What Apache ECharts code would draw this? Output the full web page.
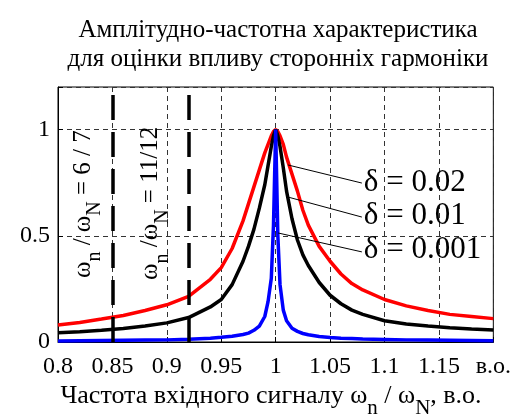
<!DOCTYPE html>
<html>
<head>
<meta charset="utf-8">
<script src="https://cdn.jsdelivr.net/npm/echarts@6/dist/echarts.min.js"></script>
<style>
  html, body { margin: 0; padding: 0; background: #fff; }
  #chart { width: 514px; height: 418px; }
</style>
</head>
<body>
<div id="chart"></div>
<script>
// частоти (в.о.) та амплітуди
var freq = [0.80, 0.82, 0.84, 0.86, 0.88, 0.90, 0.92, 0.94, 0.95, 0.96, 0.97, 0.975, 0.98, 0.985,
            0.99, 0.993, 0.996, 0.998, 1.0, 1.002, 1.004, 1.007, 1.01, 1.015, 1.02, 1.025, 1.03,
            1.04, 1.05, 1.06, 1.07, 1.08, 1.1, 1.12, 1.14, 1.16, 1.18, 1.2];
var ampD002 = [0.08, 0.092, 0.108, 0.125, 0.148, 0.175, 0.215, 0.295, 0.35, 0.44, 0.57, 0.65, 0.73, 0.81,
               0.89, 0.93, 0.97, 0.99, 1.0, 0.99, 0.97, 0.93, 0.87, 0.79, 0.71, 0.62, 0.55,
               0.45, 0.38, 0.32, 0.275, 0.245, 0.20, 0.17, 0.148, 0.13, 0.12, 0.11];
var ampD001 = [0.043, 0.048, 0.055, 0.063, 0.075, 0.09, 0.115, 0.165, 0.2, 0.27, 0.38, 0.45, 0.53, 0.63,
               0.74, 0.83, 0.92, 0.97, 1.0, 0.97, 0.92, 0.82, 0.71, 0.58, 0.48, 0.41, 0.36,
               0.28, 0.22, 0.18, 0.15, 0.13, 0.10, 0.085, 0.075, 0.067, 0.061, 0.056];
var ampD0001 = [0.005, 0.006, 0.007, 0.008, 0.009, 0.01, 0.013, 0.018, 0.022, 0.027, 0.035, 0.042, 0.055, 0.075,
                0.12, 0.19, 0.3, 0.55, 1.0, 0.5, 0.27, 0.15, 0.1, 0.065, 0.05, 0.04, 0.034,
                0.026, 0.021, 0.018, 0.016, 0.014, 0.012, 0.01, 0.009, 0.008, 0.007, 0.006];
var harmonics = [0.85, 0.9167];          // ωn/ωN = 6/7 та 11/12
var deltaLabels = ['δ = 0.02', 'δ = 0.01', 'δ = 0.001'];

var FONT = 'Liberation Serif';

function pairs(ys) {
  return freq.map(function (f, i) { return [f, ys[i]]; });
}

// leader line from curve to its label (data coords)
function leader(from, to) {
  return [{ coord: from }, { coord: to }];
}

var chart = echarts.init(document.getElementById('chart'));

chart.setOption({
  animation: false,
  backgroundColor: '#fff',
  grid: { left: 58, right: 19, top: 87, bottom: 76, show: true, borderColor: '#000', borderWidth: 1 },
  xAxis: {
    type: 'value', min: 0.8, max: 1.2, interval: 0.05,
    axisLine: { lineStyle: { color: '#000', width: 1 } },
    axisTick: { inside: true, length: 5, lineStyle: { color: '#000' } },
    axisLabel: {
      color: '#000', fontSize: 24, fontFamily: FONT, margin: 13,
      formatter: function (v) { return v > 1.19 ? 'в.о.' : String(+v.toFixed(2)); }
    },
    splitLine: { show: true, lineStyle: { color: '#333', width: 1, type: [5, 4] } }
  },
  yAxis: {
    type: 'value', min: 0, max: 1.2, interval: 0.5,
    axisLine: { show: true, lineStyle: { color: '#000', width: 1 } },
    axisTick: { show: true, inside: true, length: 5, lineStyle: { color: '#000' } },
    axisLabel: {
      color: '#000', fontSize: 24, fontFamily: FONT, margin: 8,
      formatter: function (v) { return v > 1.1 ? '' : String(+v.toFixed(2)); }
    },
    splitLine: { show: true, lineStyle: { color: '#333', width: 1, type: [5, 4] } }
  },
  series: [
    {
      name: deltaLabels[0], type: 'line', data: pairs(ampD002), showSymbol: false,
      lineStyle: { color: '#ff0000', width: 3.5 }, itemStyle: { color: '#ff0000' },
      markLine: {
        silent: true, symbol: ['none', 'none'], label: { show: false },
        lineStyle: { color: '#000', width: 1, type: 'solid' },
        data: [leader([1.0114, 0.833], [1.0792, 0.748])]
      }
    },
    {
      name: deltaLabels[1], type: 'line', data: pairs(ampD001), showSymbol: false,
      lineStyle: { color: '#000', width: 3.5 }, itemStyle: { color: '#000' },
      markLine: {
        silent: true, symbol: ['none', 'none'], label: { show: false },
        lineStyle: { color: '#000', width: 1, type: 'solid' },
        data: [leader([1.0114, 0.682], [1.0792, 0.588])]
      }
    },
    {
      name: deltaLabels[2], type: 'line', data: pairs(ampD0001), showSymbol: false,
      lineStyle: { color: '#0000ff', width: 3.5 }, itemStyle: { color: '#0000ff' },
      markLine: {
        silent: true, symbol: ['none', 'none'], label: { show: false },
        lineStyle: { color: '#000', width: 1, type: 'solid' },
        data: [
          leader([1.0023, 0.513], [1.0792, 0.424]),
          { xAxis: harmonics[0], lineStyle: { width: 3.5, type: [25, 12] } },
          { xAxis: harmonics[1], lineStyle: { width: 3.5, type: [25, 12] } }
        ]
      }
    }
  ]
});

// текст з нижніми індексами
var mctx = document.createElement('canvas').getContext('2d');
function txtStyle(text, size, align) {
  return { text: text, fontSize: size, fontFamily: FONT, fill: '#000',
           align: align, verticalAlign: 'middle', textAlign: align, textVerticalAlign: 'middle' };
}
function textRun(parts, size, subSize, subDy) {
  var x = 0, els = [];
  parts.forEach(function (p) {
    var s = p.sub ? subSize : size;
    mctx.font = s + 'px ' + FONT;
    els.push({ type: 'text', x: x, y: (p.sub ? subDy : 0) - 0.35 * s, style: txtStyle(p.t, s, 'left') });
    x += mctx.measureText(p.t).width;
  });
  return { els: els, width: x };
}

function px(pt) { return chart.convertToPixel({ gridIndex: 0 }, pt); }

var graphics = [];

// заголовок
['Амплітудно-частотна характеристика', 'для оцінки впливу сторонніх гармоніки'].forEach(function (t, i) {
  graphics.push({ type: 'text', x: 278, y: 39 + i * 29 - 0.35 * 25, style: txtStyle(t, 25, 'center') });
});

// підпис осі x
var xTitle = textRun([
  { t: 'Частота вхідного сигналу ω' }, { t: 'n', sub: true }, { t: ' / ω' }, { t: 'N', sub: true }, { t: ', в.о.' }
], 26, 21, 11);
graphics.push({ type: 'group', x: 271 - xTitle.width / 2, y: 405, children: xTitle.els });

// вертикальні підписи гармонік
var vLabels = [
  { at: [0.831, 0.301], parts: [{ t: 'ω' }, { t: 'n', sub: true }, { t: ' / ω' }, { t: 'N', sub: true }, { t: ' = 6 / 7' }] },
  { at: [0.8934, 0.292], parts: [{ t: 'ω' }, { t: 'n', sub: true }, { t: ' /ω' }, { t: 'N', sub: true }, { t: ' = 11/12' }] }
];
vLabels.forEach(function (l) {
  var run = textRun(l.parts, 25, 20, 10);
  var p = px(l.at);
  graphics.push({ type: 'group', x: p[0], y: p[1], rotation: Math.PI / 2, children: run.els });
});

// підписи δ
var deltaAt = [[1.081, 0.696], [1.081, 0.541], [1.081, 0.381]];
deltaLabels.forEach(function (t, i) {
  var p = px(deltaAt[i]);
  graphics.push({ type: 'text', x: p[0], y: p[1] - 0.35 * 31, style: txtStyle(t, 31, 'left') });
});

chart.setOption({ graphic: graphics });
</script>
</body>
</html>
